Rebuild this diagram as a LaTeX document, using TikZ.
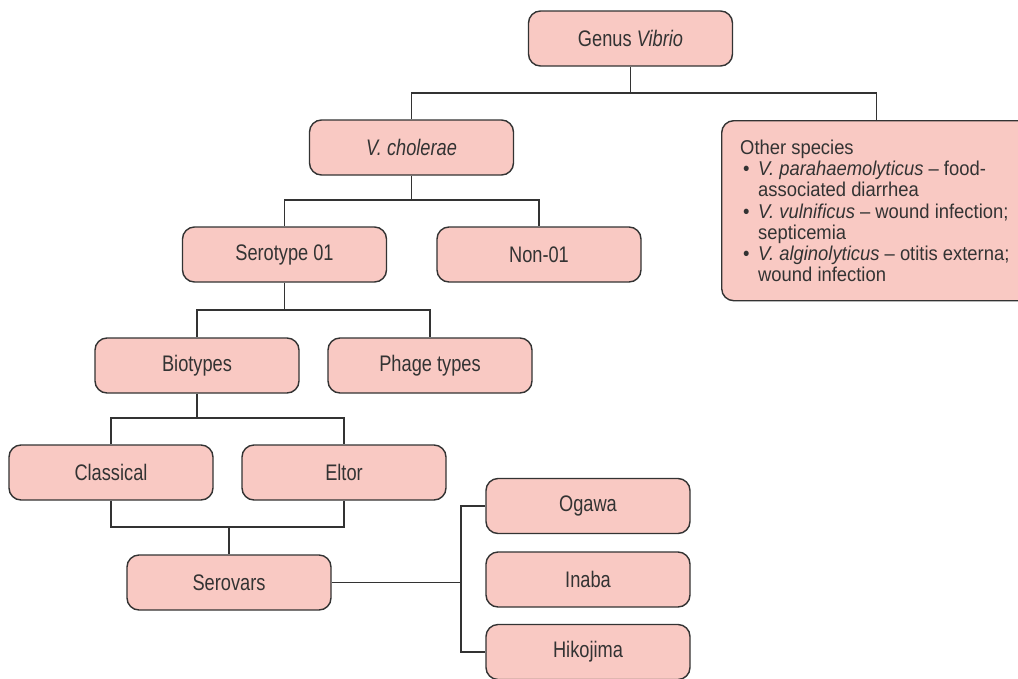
\documentclass[tikz,border=0pt]{standalone}
\usepackage{fontspec}
\setmainfont{Liberation Sans}[FakeStretch=0.81]
\newfontfamily\otherfont{Liberation Sans}[FakeStretch=0.92]
\definecolor{boxfill}{HTML}{F9C9C3}
\definecolor{ink}{HTML}{333333}
\begin{document}
\begin{tikzpicture}[x=1pt,y=-1pt,
  box/.style={draw=ink, fill=boxfill, rounded corners=12pt, line width=1.4pt,
    minimum width=204pt, minimum height=55pt, inner sep=0pt,
    font=\fontsize{22.5}{25}\selectfont, text=ink},
  conn/.style={draw=ink, line width=1.3pt}]
\useasboundingbox (0,0) rectangle (1018,678);
\clip (0,0) rectangle (1018,678);
% nodes
\node[box] (genus) at (630.5,38.5) {Genus \textit{Vibrio}};
\node[box] (chol) at (411.5,147.5) {\textit{V. cholerae}};
\node[box, minimum width=310pt, minimum height=180pt, anchor=north west] (other) at (721,120) {};
\node[anchor=north west, inner sep=0pt, align=left, text=ink,
  font=\otherfont\fontsize{20}{21.3}\selectfont] (othertext) at (740,139.5)
  {Other species\\
   \hspace*{3pt}\makebox[15pt][l]{•}\textit{V. parahaemolyticus} – food-\\
   \hspace*{18pt}associated diarrhea\\
   \hspace*{3pt}\makebox[15pt][l]{•}\textit{V. vulnificus} – wound infection;\\
   \hspace*{18pt}septicemia\\
   \hspace*{3pt}\makebox[15pt][l]{•}\textit{V. alginolyticus} – otitis externa;\\
   \hspace*{18pt}wound infection};
\node[box] (sero) at (284.5,254.5) {Serotype 01};
\node[box] (non) at (539,254.5) {Non-01};
\node[box] (bio) at (197,365.5) {Biotypes};
\node[box] (phage) at (430,365.5) {Phage types};
\node[box] (class) at (111,472.5) {Classical};
\node[box] (eltor) at (344,472.5) {Eltor};
\node[box] (serov) at (229,582.5) {Serovars};
\node[box] (ogawa) at (588,506) {Ogawa};
\node[box] (inaba) at (588,579.5) {Inaba};
\node[box] (hiko) at (588,652) {Hikojima};
% junctions
\coordinate (j1) at (630.5,93);
\coordinate (j2) at (411.5,200);
\coordinate (j3) at (284.5,310);
\coordinate (j4) at (197,418);
\coordinate (j5) at (229,527);
\coordinate (j6) at (461,582.5);
% connectors
\draw[conn] (genus.south) -- (j1);
\draw[conn] (chol.north) |- (j1) -| (other.north);
\draw[conn] (chol.south) -- (j2);
\draw[conn] (sero.north) |- (j2) -| (non.north);
\draw[conn] (sero.south) -- (j3);
\draw[conn] (bio.north) |- (j3) -| (phage.north);
\draw[conn] (bio.south) -- (j4);
\draw[conn] (class.north) |- (j4) -| (eltor.north);
\draw[conn] (class.south) |- (j5) -| (eltor.south);
\draw[conn] (j5) -- (serov.north);
\draw[conn] (serov.east) -- (j6);
\draw[conn] (ogawa.west) -| (j6) |- (hiko.west);
\end{tikzpicture}
\end{document}
